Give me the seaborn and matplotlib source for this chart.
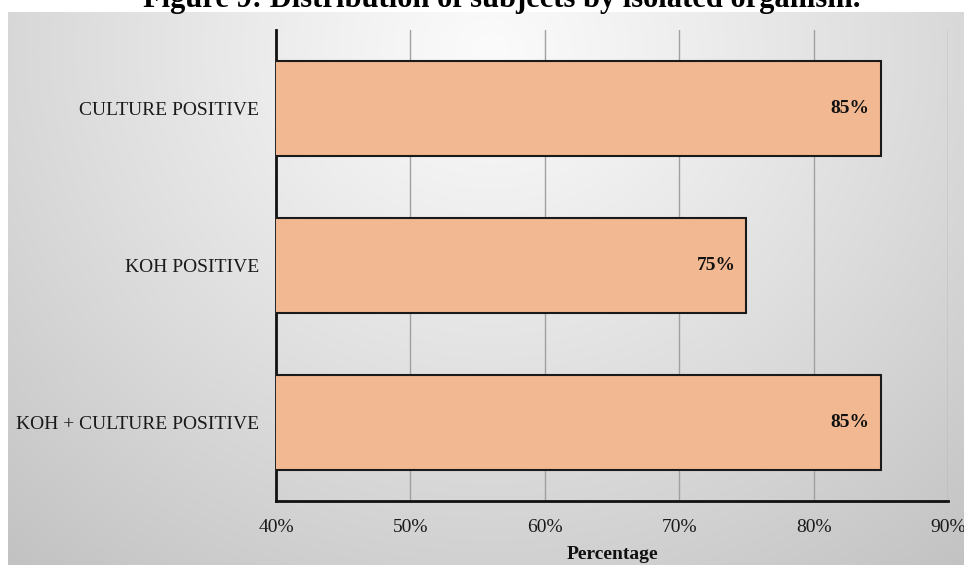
import numpy as np
import pandas as pd
import matplotlib
matplotlib.use("Agg")
import matplotlib.pyplot as plt
import seaborn as sns

categories = ["CULTURE POSITIVE", "KOH POSITIVE", "KOH + CULTURE POSITIVE"]
values = [85, 75, 85]
xticks = [40, 50, 60, 70, 80, 90]
xtick_labels = ["40%", "50%", "60%", "70%", "80%", "90%"]
title = "Figure 9: Distribution of subjects by isolated organism."
xlabel = "Percentage"

sns.set_theme(style="white")
plt.rcParams["font.family"] = ["Liberation Serif", "DejaVu Serif"]

W, H = 964, 565
fig = plt.figure(figsize=(W / 100, H / 100), dpi=100)
fig.patch.set_facecolor("white")

# background radial gradient panel
bg_left, bg_top = 8, 12
bg = fig.add_axes([bg_left / W, 0, 1 - bg_left / W, 1 - bg_top / H], zorder=0)
bw, bh = W - bg_left, H - bg_top
yy, xx = np.mgrid[0:bh, 0:bw]
cx, cy = 490 - bg_left, 50 - bg_top
r = np.sqrt((xx - cx) ** 2 + ((yy - cy) * 1.1) ** 2)
r = r / r.max()
grey = 251 - (251 - 194) * np.clip(r, 0, 1) ** 1.1
img = np.dstack([grey, grey, grey]) / 255.0
bg.imshow(img, aspect="auto", interpolation="bilinear")
bg.set_axis_off()

ax = fig.add_axes([276 / W, 1 - 501 / H, (948 - 276) / W, (501 - 30) / H], zorder=1)
ax.patch.set_alpha(0)

df = pd.DataFrame({"category": categories, "value": values})
sns.barplot(data=df, x="value", y="category", orient="h", color="#F1B891",
            saturation=1, edgecolor="#1a1a1a", linewidth=1.5, width=0.6, ax=ax, zorder=3)

ax.set_xlim(40, 90)
ax.set_ylim(2.5, -0.5)
ax.set_xticks(xticks)
ax.set_xticklabels(xtick_labels, fontsize=14, color="#1a1a1a")
ax.tick_params(axis="y", labelsize=14, colors="#1a1a1a", pad=12, length=0)
ax.tick_params(axis="x", pad=13, length=0)
ax.set_ylabel("")
ax.set_xlabel(xlabel, fontsize=14, fontweight="bold", labelpad=7, color="#111111")

ax.grid(axis="x", color="#a0a0a0", linewidth=1.0, zorder=0)
ax.set_axisbelow(True)
for s in ["top", "right"]:
    ax.spines[s].set_visible(False)
for s in ["left", "bottom"]:
    ax.spines[s].set_visible(True)
    ax.spines[s].set_color("#111111")
    ax.spines[s].set_linewidth(2)

for i, v in enumerate(values):
    ax.annotate(f"{v}%", xy=(v, i), xytext=(-11, 0), textcoords="offset pixels",
                ha="right", va="center", fontsize=14, fontweight="bold", color="#111111")

fig.text(143 / W, 1 - 7.5 / H, title, ha="left", va="baseline",
         fontsize=22, fontweight="bold", color="#000000")

fig.savefig("out.png", dpi=100)
